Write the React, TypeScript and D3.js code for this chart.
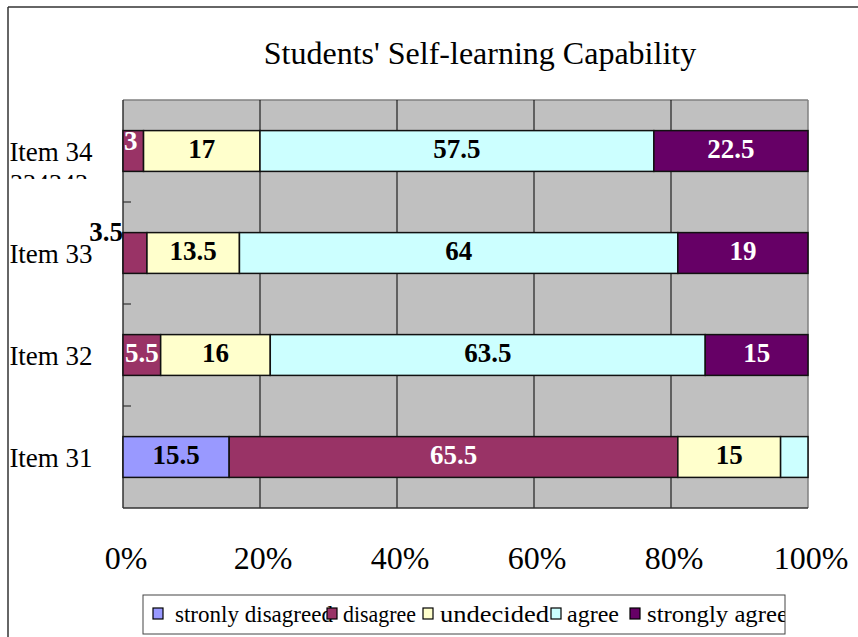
import React from "react";
import * as d3 from "d3";

const categories = ["Item 31", "Item 32", "Item 33", "Item 34"];
const seriesNames = ["stronly disagreed", "disagree", "undecided", "agree", "strongly agree"];
const stronglyDisagree = [15.5, 0, 0, 0];
const disagree = [65.5, 5.5, 3.5, 3];
const undecided = [15, 16, 13.5, 17];
const agree = [4, 63.5, 64, 57.5];
const stronglyAgree = [0, 15, 19, 22.5];
const xTicks = [0, 20, 40, 60, 80, 100];
const strayLabel = "334343";

const colors = ["#9999FF", "#993366", "#FFFFCC", "#CCFFFF", "#660066"];
const labelColors = ["#000", "#fff", "#000", "#000", "#fff"];
const hiddenLabels = new Set(["Item 31|3"]);
// per-label placement overrides (Excel moved labels that did not fit)
const labelOverride: Record<string, { dx: number; dy: number; anchor: string }> = {
  "Item 34|1": { dx: 1, dy: -1, anchor: "start" },
  "Item 33|1": { dx: 0, dy: -12, anchor: "end" },
};

const FONT = "'Liberation Serif', 'Times New Roman', Times, serif";
const W = 858;
const H = 637;
const plot = { left: 123, right: 808, top: 100, bottom: 508 };
// legend layout: swatch x, text start, text length
const legendLayout = [
  { sx: 153, tx: 175, tl: 158 },
  { sx: 327, tx: 343, tl: 73 },
  { sx: 423, tx: 440, tl: 109 },
  { sx: 551, tx: 567, tl: 52 },
  { sx: 630, tx: 647, tl: 141 },
];

export default function App() {
  const series = [stronglyDisagree, disagree, undecided, agree, stronglyAgree];
  const rows = categories.map((c, i) => {
    const r: any = { cat: c };
    series.forEach((s, k) => (r[k] = s[i]));
    return r;
  });
  const stack = d3.stack<any>().keys(series.map((_, k) => String(k)))(rows);

  const x = d3.scaleLinear().domain([0, 100]).range([plot.left, plot.right]);
  const y = d3
    .scaleBand<string>()
    .domain([...categories].reverse())
    .range([plot.top, plot.bottom])
    .paddingInner(0.6)
    .paddingOuter(0.3);
  const step = y.step();
  const boundaries = categories.slice(1).map((_, i) => plot.top + step * (i + 1));

  return (
    <svg width={W} height={H} style={{ position: "absolute", left: 0, top: 0, background: "#fff" }} fontFamily={FONT}>
      <defs>
        <clipPath id="strayClip">
          <rect x={0} y={160} width={120} height={19} />
        </clipPath>
        <clipPath id="legendClip">
          <rect x={143} y={595} width={642} height={40} />
        </clipPath>
      </defs>
      {/* chart frame */}
      <line x1={8} y1={7} x2={W} y2={7} stroke="#333" strokeWidth={1.5} />
      <line x1={8} y1={7} x2={8} y2={H} stroke="#333" strokeWidth={1.5} />

      <text x={480} y={64} textAnchor="middle" fontSize={32} fill="#000" fontFamily={FONT}>
        Students' Self-learning Capability
      </text>

      {/* plot area */}
      <rect x={plot.left} y={plot.top} width={plot.right - plot.left} height={plot.bottom - plot.top} fill="#C0C0C0" />
      <line x1={plot.left} y1={plot.top} x2={plot.right} y2={plot.top} stroke="#808080" strokeWidth={1.5} />
      <line x1={plot.right} y1={plot.top} x2={plot.right} y2={plot.bottom} stroke="#808080" strokeWidth={1.5} />
      {xTicks.slice(1, -1).map((t) => (
        <line key={t} x1={x(t)} y1={plot.top} x2={x(t)} y2={plot.bottom} stroke="#000" strokeWidth={1} />
      ))}
      <line x1={plot.left} y1={plot.bottom} x2={plot.right} y2={plot.bottom} stroke="#333" strokeWidth={1.5} />
      <line x1={plot.left} y1={plot.top} x2={plot.left} y2={plot.bottom} stroke="#333" strokeWidth={1.5} />
      {boundaries.map((b, i) => (
        <line key={i} x1={plot.left} y1={b} x2={plot.left + 8} y2={b} stroke="#333" strokeWidth={1.2} />
      ))}

      {/* bars */}
      {stack.map((layer, k) =>
        layer.map((d, i) => {
          const v = d[1] - d[0];
          if (v <= 0) return null;
          return (
            <rect
              key={`${k}-${i}`}
              x={x(d[0])}
              y={y(categories[i])!}
              width={x(d[1]) - x(d[0])}
              height={y.bandwidth()}
              fill={colors[k]}
              stroke="#111"
              strokeWidth={1.5}
            />
          );
        })
      )}

      {/* value labels */}
      {stack.map((layer, k) =>
        layer.map((d, i) => {
          const v = d[1] - d[0];
          const key = `${categories[i]}|${k}`;
          if (v <= 0 || hiddenLabels.has(key)) return null;
          const cy = y(categories[i])! + y.bandwidth() / 2;
          const ov = labelOverride[key];
          const tx = ov ? x(d[0]) + ov.dx : (x(d[0]) + x(d[1])) / 2;
          const ty = ov ? cy + ov.dy : cy + 7;
          const fill = ov && ov.anchor === "end" ? "#000" : labelColors[k];
          return (
            <text
              key={key}
              x={tx}
              y={ty}
              textAnchor={ov ? ov.anchor : "middle"}
              fontSize={27}
              fontWeight="bold"
              fill={fill}
            >
              {v}
            </text>
          );
        })
      )}

      {/* category labels */}
      {categories.map((c) => (
        <text key={c} x={51} y={y(c)! + y.bandwidth() / 2 + 10} textAnchor="middle" fontSize={27} fill="#000">
          {c}
        </text>
      ))}
      <text x={10} y={192} fontSize={26} fill="#000" clipPath="url(#strayClip)">
        {strayLabel}
      </text>

      {/* x axis labels */}
      {xTicks.map((t) => (
        <text key={t} x={x(t) + 3} y={569} textAnchor="middle" fontSize={32} fill="#000">
          {`${t}%`}
        </text>
      ))}

      {/* legend */}
      <g clipPath="url(#legendClip)">
        {seriesNames.map((n, k) => (
          <text
            key={n}
            x={legendLayout[k].tx}
            y={622}
            fontSize={23}
            fill="#000"
            textLength={legendLayout[k].tl}
            lengthAdjust="spacingAndGlyphs"
          >
            {n}
          </text>
        ))}
        {seriesNames.map((n, k) => (
          <rect
            key={n}
            x={legendLayout[k].sx}
            y={608}
            width={10}
            height={11}
            fill={colors[k]}
            stroke="#000"
            strokeWidth={1.2}
          />
        ))}
      </g>
      <rect x={143} y={595} width={642} height={39} fill="none" stroke="#444" strokeWidth={1} />
    </svg>
  );
}
